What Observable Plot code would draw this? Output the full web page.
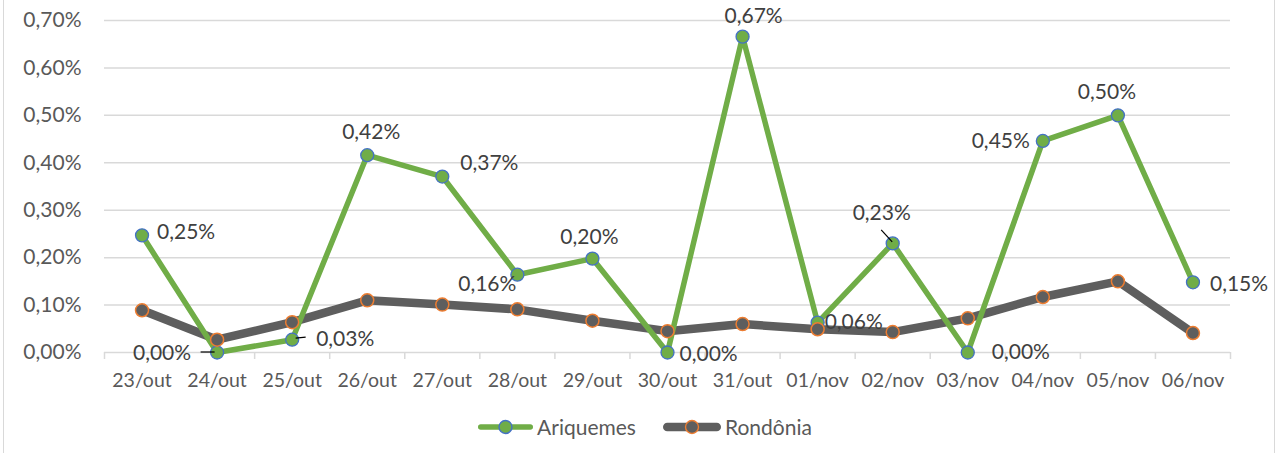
<!DOCTYPE html>
<html>
<head>
<meta charset="utf-8">
<script src="https://cdn.jsdelivr.net/npm/d3@7"></script>
<script src="https://cdn.jsdelivr.net/npm/@observablehq/plot@0.6"></script>
<style>
  html, body { margin: 0; padding: 0; background: #fff; }
  #wrap { position: relative; width: 1279px; height: 453px; overflow: hidden; font-family: Lato, sans-serif; }
  #frame { position: absolute; left: 3px; top: -2px; width: 1270px; height: 460px; border-left: 1.5px solid #d9d9d9; border-right: 1.5px solid #d9d9d9; pointer-events: none; }
  #legend { display: flex; justify-content: center; align-items: center; height: 53px; padding-left: 10px; box-sizing: border-box; color: #595959; font-size: 21px; }
  .item { display: flex; align-items: center; }
  .item + .item { margin-left: 26px; }
  .item svg { margin-right: 3px; }
</style>
</head>
<body>
<div id="wrap">
  <div id="chart"></div>
  <div id="legend"></div>
  <div id="frame"></div>
</div>
<script>
const dates = ["23/out","24/out","25/out","26/out","27/out","28/out","29/out","30/out","31/out","01/nov","02/nov","03/nov","04/nov","05/nov","06/nov"];
const ariquemes = [0.247, 0.0, 0.027, 0.416, 0.371, 0.164, 0.198, 0.0, 0.666, 0.063, 0.23, 0.0, 0.446, 0.5, 0.148];
const rondonia = [0.089, 0.027, 0.064, 0.110, 0.101, 0.091, 0.067, 0.045, 0.060, 0.049, 0.043, 0.072, 0.117, 0.150, 0.041];
const yTicks = [0, 0.1, 0.2, 0.3, 0.4, 0.5, 0.6, 0.7];
const seriesNames = ["Ariquemes", "Rondônia"];

// label placement for the Ariquemes data labels: [text-anchor, dx, dy]
const labelPlacement = [
  ["start", 15, -3], ["end", -26, 1], ["start", 24, 0], ["middle", 4, -23], ["start", 18, -13],
  ["end", -1, 10], ["middle", -3, -21], ["start", 12, 2], ["middle", 11, -20], ["start", 7, 0],
  ["middle", -11, -30], ["start", 24, 0], ["end", -13, 0], ["middle", -11, -23], ["start", 17, 2]
];

const fmt = v => v.toFixed(2).replace(".", ",") + "%";
const green = "#70ad47", blue = "#4472c4", gray = "#5e5e5e", orange = "#ed7d31";

const ari = dates.map((d, i) => ({i, date: d, value: ariquemes[i], place: labelPlacement[i]}));
const ron = dates.map((d, i) => ({i, date: d, value: rondonia[i]}));
const boundaries = d3.range(dates.length + 1).map(k => k - 0.5);

// leader lines (pixel offsets from the point), drawn through the library's scales
const leaders = [
  {i: 1, a: [-16, 0], b: [-2, 0]},
  {i: 2, a: [4, -1], b: [14, -2]},
  {i: 10, a: [-11, -13], b: [0, -1]}
];

const plot = Plot.plot({
  width: 1279,
  height: 400,
  marginLeft: 104,
  marginRight: 49,
  marginTop: 20,
  marginBottom: 48,
  style: {fontFamily: "Lato, sans-serif", background: "transparent", overflow: "visible"},
  x: {type: "linear", domain: [-0.5, dates.length - 0.5], label: null},
  y: {domain: [0, 0.7], label: null},
  marks: [
    Plot.gridY({ticks: yTicks, stroke: "#d9d9d9", strokeOpacity: 1, strokeWidth: 1.5}),
    Plot.axisY({ticks: yTicks, tickSize: 0, tickPadding: 23, tickFormat: fmt, fontSize: 21, fill: "#595959", label: null}),
    Plot.axisX({ticks: boundaries, tickSize: 7, tickFormat: () => "", stroke: "#d9d9d9", strokeWidth: 1.5, label: null}),
    Plot.axisX({ticks: d3.range(dates.length), tickSize: 0, tickPadding: 21, tickFormat: i => dates[i], fontSize: 19.5, fill: "#595959", label: null}),
    Plot.line(ron, {x: "i", y: "value", stroke: gray, strokeWidth: 8.5, strokeLinejoin: "round", strokeLinecap: "round"}),
    Plot.line(ari, {x: "i", y: "value", stroke: green, strokeWidth: 5.5, strokeLinejoin: "round", strokeLinecap: "round"}),
    Plot.dot(ari, {x: "i", y: "value", r: 6.5, fill: green, stroke: blue, strokeWidth: 1.3}),
    Plot.dot(ron, {x: "i", y: "value", r: 6.5, fill: gray, stroke: orange, strokeWidth: 1.5}),
    (index, scales) => {
      const g = d3.create("svg:g").attr("stroke", "#000").attr("stroke-width", 1.2);
      for (const l of leaders) {
        const px = scales.x(l.i), py = scales.y(ariquemes[l.i]);
        g.append("line").attr("x1", px + l.a[0]).attr("y1", py + l.a[1]).attr("x2", px + l.b[0]).attr("y2", py + l.b[1]);
      }
      return g.node();
    },
    ...ari.map(d => Plot.text([d], {
      x: "i", y: "value", text: p => fmt(p.value), textAnchor: d.place[0],
      dx: d.place[1], dy: d.place[2],
      fontSize: 21, fill: "#404040"
    }))
  ]
});
document.getElementById("chart").appendChild(plot);

// legend
const legend = d3.select("#legend");
const swatches = [
  {name: seriesNames[0], line: green, lw: 5.5, fill: green, stroke: blue, w: 57},
  {name: seriesNames[1], line: gray, lw: 8.5, fill: gray, stroke: orange, w: 60}
];
for (const s of swatches) {
  const item = legend.append("div").attr("class", "item");
  const svg = item.append("svg").attr("width", s.w).attr("height", 18);
  svg.append("line").attr("x1", s.lw / 2 + 1).attr("x2", s.w - s.lw / 2 - 1).attr("y1", 9).attr("y2", 9)
    .attr("stroke", s.line).attr("stroke-width", s.lw).attr("stroke-linecap", "round");
  svg.append("circle").attr("cx", s.w / 2).attr("cy", 9).attr("r", 6.5).attr("fill", s.fill).attr("stroke", s.stroke).attr("stroke-width", 1.4);
  item.append("span").text(s.name);
}
</script>
</body>
</html>
